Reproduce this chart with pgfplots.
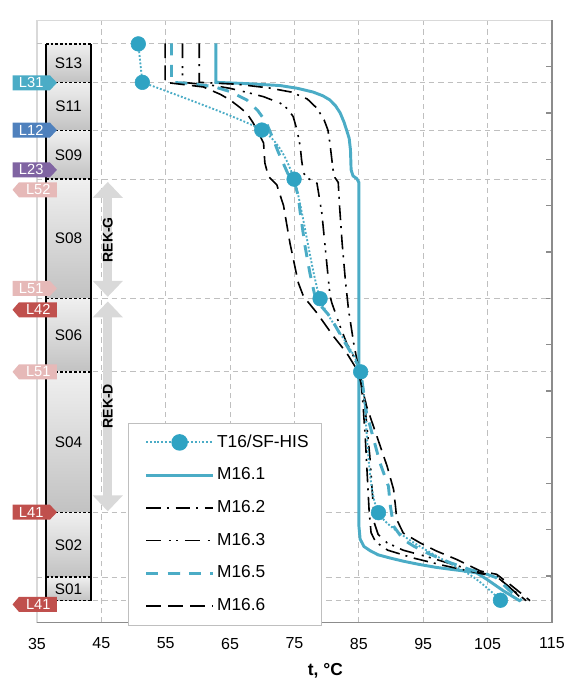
\documentclass[border=0pt]{standalone}
\usepackage{fontspec}
\setmainfont{Liberation Sans}
\usepackage{pgfplots}
\pgfplotsset{compat=1.18}
\usetikzlibrary{arrows.meta}
\definecolor{cteal}{HTML}{4BACC6}
\definecolor{cmark}{HTML}{2FA3C3}
\definecolor{cgrid}{HTML}{BFBFBF}
\definecolor{caxis}{HTML}{8C8C8C}
\definecolor{clight}{HTML}{D9D9D9}
\definecolor{cblue}{HTML}{4F81BD}
\definecolor{cpurp}{HTML}{8064A2}
\definecolor{cpink}{HTML}{E6B9B8}
\definecolor{cred}{HTML}{C0504D}
\definecolor{carrow}{HTML}{D9D9D9}
\tikzset{
  m161/.style={cteal, line width=2.2pt, solid},
  m162/.style={black, line width=1.2pt, dash pattern=on 11pt off 4.5pt on 1.5pt off 5pt},
  m163/.style={black, line width=1.2pt, dash pattern=on 11pt off 6pt on 1.5pt off 4pt on 1.5pt off 5pt},
  m165/.style={cteal, line width=2.2pt, dash pattern=on 9pt off 7pt},
  m166/.style={black, line width=1.2pt, dash pattern=on 11pt off 5.5pt},
  t16/.style={cteal, line width=1.4pt, dash pattern=on 1.4pt off 1.4pt},
  sdash/.style={black, line width=1pt, dash pattern=on 2pt off 1.5pt},
}
\newcommand{\tagR}[3]{%
  \fill[#2] (axis cs:31.2,{#1-0.162}) -- (axis cs:37.0,{#1-0.162}) -- (axis cs:38.1,#1) -- (axis cs:37.0,{#1+0.162}) -- (axis cs:31.2,{#1+0.162}) -- cycle;
  \node[text=white, inner sep=0pt, font=\fontsize{11}{12}\selectfont] at (axis cs:34.1,#1) {#3};}
\newcommand{\tagL}[3]{%
  \fill[#2] (axis cs:32.2,{#1-0.162}) -- (axis cs:38.1,{#1-0.162}) -- (axis cs:38.1,{#1+0.162}) -- (axis cs:32.2,{#1+0.162}) -- (axis cs:31.2,#1) -- cycle;
  \node[text=white, inner sep=0pt, font=\fontsize{11}{12}\selectfont] at (axis cs:35.2,#1) {#3};}
\newcommand{\sect}[4]{%
  \shade[top color=black!6, bottom color=black!24] (axis cs:36.4,#1) rectangle (axis cs:43.4,#2);
  \node[inner sep=0pt, font=\fontsize{11.5}{13}\selectfont] at (axis cs:39.9,#3) {#4};}
\newcommand{\sline}[1]{\draw[sdash] (axis cs:36.4,#1) -- (axis cs:43.4,#1);}
\begin{document}
\begin{tikzpicture}
\useasboundingbox (-27.75pt,-42.4pt) rectangle (399.75pt,466.9pt);
\begin{axis}[
  at={(0,0)}, anchor=south west,
  scale only axis, width=386.25pt, height=451.7pt,
  xmin=35, xmax=115, ymin=0, ymax=13,
  clip=false,
  /pgf/number format/assume math mode=true,
  xtick={35,45,...,115},
  xticklabel style={font=\fontsize{12}{14}\selectfont, yshift=-8pt},
  xtick style={draw=none},
  ytick={1,...,12}, yticklabels={}, ytick pos=right,
  ytick style={caxis, line width=1pt},
  major tick length=4.5pt,
  extra y ticks={0.47,0.98,2.37,5.41,7.0,9.57,10.62,11.66,12.49},
  extra y tick labels={},
  extra y tick style={grid=major, major tick length=0pt},
  xmajorgrids=true,
  grid style={cgrid, line width=0.8pt, dash pattern=on 4pt off 3pt},
  axis line style={clight, line width=0.8pt},
  xlabel={\textbf{t, °C}},
  every axis x label/.style={at={(rel axis cs:0.56,0)}, anchor=center, yshift=-36.5pt, font=\fontsize{13}{15}\selectfont},
  legend image code/.code={\path (0pt,0pt); \draw[mark repeat=2,mark phase=2,#1] plot coordinates {(4.5pt,0pt) (29.5pt,0pt) (54.5pt,0pt)};},
  legend style={at={(rel axis cs:0.176,0.332)}, anchor=north west, draw=cgrid, line width=0.8pt, fill=white,
    font=\fontsize{13}{15}\selectfont, row sep=7.5pt, inner xsep=8pt, inner ysep=6pt,
    nodes={inner sep=2pt, text height=10pt, text depth=3pt}},
  legend cell align=left,
]
\addlegendimage{t16, mark=*, mark size=5.5pt, mark options={solid, fill=cmark, draw=cmark}}
\addlegendentry{T16/SF-HIS}

% M16.1
\addplot[m161] coordinates {
(62.8,12.5) (62.8,11.66) (68,11.63) (72.8,11.59) (75.5,11.53) (77.9,11.45) (79.4,11.37) (80.5,11.28)
(81.4,11.15) (82.1,11.0) (82.7,10.8) (83.1,10.63) (83.5,10.45) (83.7,10.2) (83.8,9.77) (84.1,9.64)
(84.7,9.58) (85.0,9.5) (85.0,2.1) (85.2,1.8) (85.8,1.64) (86.75,1.55) (88.0,1.46) (89.9,1.39) (92.0,1.32)
(94.5,1.25) (97,1.19) (99.7,1.14) (102.0,1.1) (103.3,1.07) (104.9,0.93) (107.5,0.68) (110.1,0.46)};
\addlegendentry{M16.1}

% M16.2
\addplot[m162] coordinates {
(60.2,12.5) (60.2,11.66) (66,11.62) (71,11.54) (74.5,11.45) (77,11.3) (78.5,11.1) (79.6,10.85)
(80.2,10.63) (80.5,10.35) (81.0,9.77) (81.3,9.6) (81.8,9.5) (82.0,9.0) (82.4,8.2) (82.9,7.4)
(83.4,6.75) (84.2,6.03) (84.7,5.67) (85.2,5.41) (85.6,4.8) (86.0,4.0) (86.3,3.2) (86.6,2.4)
(86.9,1.94) (87.6,1.74) (89.5,1.56) (93.5,1.39) (98.2,1.23) (102.5,1.1) (106.5,0.98) (108.8,0.72) (111.0,0.47)};
\addlegendentry{M16.2}

% M16.3
\addplot[m163] coordinates {
(57.6,12.5) (57.6,11.66) (62,11.6) (65,11.53) (68,11.43) (70.2,11.35) (72.8,11.21) (74.0,11.08)
(74.8,10.92) (75.4,10.63) (75.9,10.27) (76.1,9.99) (76.4,9.7) (77.2,9.58) (78.5,9.48) (79.25,8.84)
(79.76,8.12) (80.27,7.40) (80.54,7.04) (80.8,6.9) (82.1,6.39) (83.1,6.03) (84.2,5.74) (85.2,5.41)
(86.0,4.6) (86.7,3.6) (87.2,2.6) (87.4,2.15) (88.0,1.9) (89.4,1.72) (91.9,1.56) (95.6,1.42)
(99.2,1.27) (103.3,1.1) (106.6,0.98) (108.9,0.7) (110.6,0.47)};
\addlegendentry{M16.3}

% M16.5
\addplot[m165] coordinates {
(55.9,12.5) (55.9,11.66) (58.3,11.64) (62.4,11.57) (65.0,11.46) (67.6,11.28) (69.3,11.05) (70.6,10.8)
(71.5,10.5) (72.5,10.15) (73.3,9.9) (74.2,9.62) (75.1,9.45) (75.6,9.2) (75.9,8.84) (76.65,8.12)
(77.4,7.54) (78.1,7.1) (79.0,6.85) (80.5,6.61) (82.6,6.10) (84.7,5.60) (85.3,5.41) (86.2,4.52)
(88.3,3.44) (89.6,2.94) (89.9,2.51) (90.4,2.08) (91.9,1.79) (93.5,1.65) (96.1,1.47) (99.2,1.29)
(102.3,1.14) (104.5,1.06) (106.3,0.97) (108.5,0.68) (110.3,0.47)};
\addlegendentry{M16.5}

% M16.6
\addplot[m166] coordinates {
(54.9,12.5) (54.9,11.66) (60.85,11.56) (63.5,11.4) (65.0,11.28) (66.5,11.12) (67.6,10.99) (68.6,10.78)
(69.7,10.49) (70.2,10.35) (70.4,9.92) (70.95,9.63) (72.25,9.45) (73.3,9.0) (74.3,8.19) (75.6,7.33)
(76.4,7.04) (78.5,6.68) (81.05,6.18) (83.1,5.82) (84.7,5.46) (85.2,5.24) (86.2,4.67) (87.8,4.02)
(89.4,3.37) (90.4,2.87) (90.7,2.5) (90.9,2.22) (91.9,1.93) (94.5,1.72) (97.1,1.54) (100.2,1.36)
(103.9,1.11) (106.4,1.04) (108.5,0.82) (110.1,0.64) (111.6,0.47)};
\addlegendentry{M16.6}

% T16/SF-HIS measured: line (straight top segment, smooth below) and markers
\addplot[t16, forget plot] coordinates {(50.74,12.49) (51.37,11.66)};
\addplot[t16, smooth, tension=0.4, forget plot] coordinates {
(51.37,11.66) (69.92,10.63) (74.94,9.57) (78.98,6.99) (85.28,5.41) (88.05,2.37) (102.8,0.98) (107.0,0.48)};
\addplot[only marks, mark=*, mark size=5.5pt, mark options={solid, fill=cmark, draw=cmark}, forget plot] coordinates {
(50.74,12.49) (51.37,11.66) (69.92,10.63) (74.94,9.57) (78.98,6.99) (85.28,5.41) (88.05,2.37) (107.0,0.48)};

\draw[caxis, solid, line width=1.2pt] (rel axis cs:0,0) -- (rel axis cs:1,0) -- (rel axis cs:1,1);

\sect{11.66}{12.49}{12.075}{S13}
\sect{10.62}{11.66}{11.14}{S11}
\sect{9.57}{10.62}{10.095}{S09}
\sect{7.0}{9.57}{8.285}{S08}
\sect{5.41}{7.0}{6.205}{S06}
\sect{2.37}{5.41}{3.89}{S04}
\sect{0.98}{2.37}{1.675}{S02}
\sect{0.47}{0.98}{0.725}{S01}
\fill[black] (axis cs:36.28,0.47) rectangle (axis cs:36.52,12.49);
\fill[black] (axis cs:43.28,0.47) rectangle (axis cs:43.52,12.49);
\sline{0.47}\sline{0.98}\sline{2.37}\sline{5.41}\sline{7.0}\sline{9.57}\sline{10.62}\sline{11.66}\sline{12.49}

\draw[carrow, solid, line width=7pt, {Triangle[width=22pt,length=12pt]}-{Triangle[width=22pt,length=12pt]}] (axis cs:46.0,9.51) -- (axis cs:46.0,7.03);
\draw[carrow, solid, line width=7pt, {Triangle[width=22pt,length=12pt]}-{Triangle[width=22pt,length=12pt]}] (axis cs:46.0,6.93) -- (axis cs:46.0,2.40);
\node[rotate=90, inner sep=0pt, font=\bfseries\fontsize{10.5}{12}\selectfont] at (axis cs:46.0,8.26) {REK-G};
\node[rotate=90, inner sep=0pt, font=\bfseries\fontsize{10.5}{12}\selectfont] at (axis cs:46.0,4.67) {REK-D};

\tagR{11.65}{cteal}{L31}
\tagR{10.63}{cblue}{L12}
\tagR{9.77}{cpurp}{L23}
\tagL{9.34}{cpink}{L52}
\tagR{7.21}{cpink}{L51}
\tagL{6.75}{cred}{L42}
\tagL{5.41}{cpink}{L51}
\tagR{2.38}{cred}{L41}
\tagL{0.39}{cred}{L41}
\end{axis}
\end{tikzpicture}
\end{document}
